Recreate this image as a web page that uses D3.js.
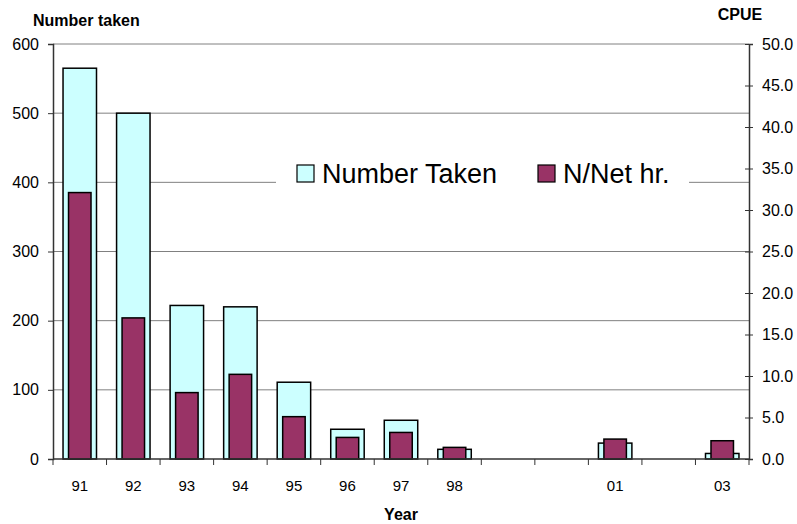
<!DOCTYPE html>
<html>
<head>
<meta charset="utf-8">
<script src="https://cdn.jsdelivr.net/npm/d3@7"></script>
<style>
  body { margin: 0; background: #fff; }
  svg { font-family: Arial, "Liberation Sans", sans-serif; }
</style>
</head>
<body>
<div id="chart"></div>
<script>
// data
const years = ["91", "92", "93", "94", "95", "96", "97", "98", "99", "00", "01", "02", "03"]
const yearLabels = ["91", "92", "93", "94", "95", "96", "97", "98", "", "", "01", "", "03"]
const numberTaken = [565, 500, 222, 220, 111, 43, 56, 14, null, null, 23, null, 8]
const cpue = [32.1, 17.0, 8.0, 10.2, 5.1, 2.6, 3.2, 1.4, null, null, 2.4, null, 2.2]
const leftTicks = [0, 100, 200, 300, 400, 500, 600]
const rightTicks = [0, 5, 10, 15, 20, 25, 30, 35, 40, 45, 50]

const width = 797
const height = 524
const margin = {top: 44, right: 48, bottom: 65, left: 53}

const svg = d3.select("#chart")
    .append("svg")
    .attr("width", width)
    .attr("height", height)

const g = svg.append("g")
    .attr("transform", "translate(" + margin.left + "," + margin.top + ")")

const w = width - margin.left - margin.right
const h = height - margin.top - margin.bottom

const x = d3.scaleBand()
    .domain(years)
    .range([0, w])
    .paddingInner(0.375)
    .paddingOuter(0.1875)

const yLeft = d3.scaleLinear().domain([0, 600]).range([h, 0])
const yRight = d3.scaleLinear().domain([0, 50]).range([h, 0])

// gridlines
g.selectAll(".grid")
    .data(leftTicks.filter(d => d > 0))
    .enter()
    .append("line")
    .attr("x1", 0)
    .attr("x2", w)
    .attr("y1", d => yLeft(d))
    .attr("y2", d => yLeft(d))
    .attr("stroke", "#808080")
    .attr("stroke-width", 1)

const rows = years.map((y, i) => ({year: y, n: numberTaken[i], c: cpue[i]}))

// Number taken bars (wide, light cyan)
g.selectAll(".barN")
    .data(rows.filter(d => d.n != null))
    .enter()
    .append("rect")
    .attr("x", d => x(d.year))
    .attr("width", x.bandwidth())
    .attr("y", d => yLeft(d.n))
    .attr("height", d => h - yLeft(d.n))
    .attr("fill", "#ccffff")
    .attr("stroke", "#000")
    .attr("stroke-width", 1.5)

// CPUE bars (narrow, maroon), centered on the same band
const cw = x.step() * 0.42
g.selectAll(".barC")
    .data(rows.filter(d => d.c != null))
    .enter()
    .append("rect")
    .attr("x", d => x(d.year) + x.bandwidth() / 2 - cw / 2)
    .attr("width", cw)
    .attr("y", d => yRight(d.c))
    .attr("height", d => h - yRight(d.c))
    .attr("fill", "#993366")
    .attr("stroke", "#000")
    .attr("stroke-width", 1.5)

// left axis
const leftAxis = g.append("g")
    .call(d3.axisLeft(yLeft).tickValues(leftTicks).tickSize(5).tickPadding(9))
leftAxis.select(".domain").attr("stroke", "#333").attr("stroke-width", 1.5)
leftAxis.selectAll(".tick line").attr("stroke", "#333")
leftAxis.selectAll("text").style("font-size", "16px").attr("fill", "#000")

// right axis, ticks cross the line
const rightAxis = g.append("g")
    .attr("transform", "translate(" + w + ",0)")
    .call(d3.axisRight(yRight).tickValues(rightTicks).tickFormat(d3.format(".1f")).tickSize(4).tickPadding(9))
rightAxis.select(".domain").attr("stroke", "#333").attr("stroke-width", 1.5)
rightAxis.selectAll(".tick line").attr("x1", -4).attr("stroke", "#333")
rightAxis.selectAll("text").style("font-size", "16px").attr("fill", "#000")

// x axis: ticks at slot boundaries
const xAxis = g.append("g")
    .attr("transform", "translate(0," + h + ")")
xAxis.append("line")
    .attr("x1", 0).attr("x2", w)
    .attr("stroke", "#333").attr("stroke-width", 1.5)
xAxis.selectAll(".xt")
    .data(d3.range(years.length + 1))
    .enter()
    .append("line")
    .attr("x1", i => i * x.step())
    .attr("x2", i => i * x.step())
    .attr("y1", 0).attr("y2", 6)
    .attr("stroke", "#333")
xAxis.selectAll(".xl")
    .data(years)
    .enter()
    .append("text")
    .attr("x", d => x(d) + x.bandwidth() / 2)
    .attr("y", 32)
    .attr("text-anchor", "middle")
    .style("font-size", "15px")
    .text((d, i) => yearLabels[i])

// axis titles
svg.append("text")
    .attr("x", 33).attr("y", 26)
    .style("font-size", "16px").style("font-weight", "bold")
    .text("Number taken")
svg.append("text")
    .attr("x", 740).attr("y", 20)
    .attr("text-anchor", "middle")
    .style("font-size", "16px").style("font-weight", "bold")
    .text("CPUE")
svg.append("text")
    .attr("x", 401).attr("y", 520)
    .attr("text-anchor", "middle")
    .style("font-size", "16px").style("font-weight", "bold")
    .text("Year")

// legend
const legend = svg.append("g")
legend.append("rect")
    .attr("x", 276).attr("y", 158)
    .attr("width", 413).attr("height", 34)
    .attr("fill", "#fff")
const items = [
    {label: "Number Taken", color: "#ccffff", x: 297},
    {label: "N/Net hr.", color: "#993366", x: 538}
]
const li = legend.selectAll(".li")
    .data(items)
    .enter()
    .append("g")
li.append("rect")
    .attr("x", d => d.x).attr("y", 165)
    .attr("width", 17).attr("height", 17)
    .attr("fill", d => d.color)
    .attr("stroke", "#000").attr("stroke-width", 1.2)
li.append("text")
    .attr("x", d => d.x + 25).attr("y", 183)
    .style("font-size", "27px")
    .text(d => d.label)
</script>
</body>
</html>
